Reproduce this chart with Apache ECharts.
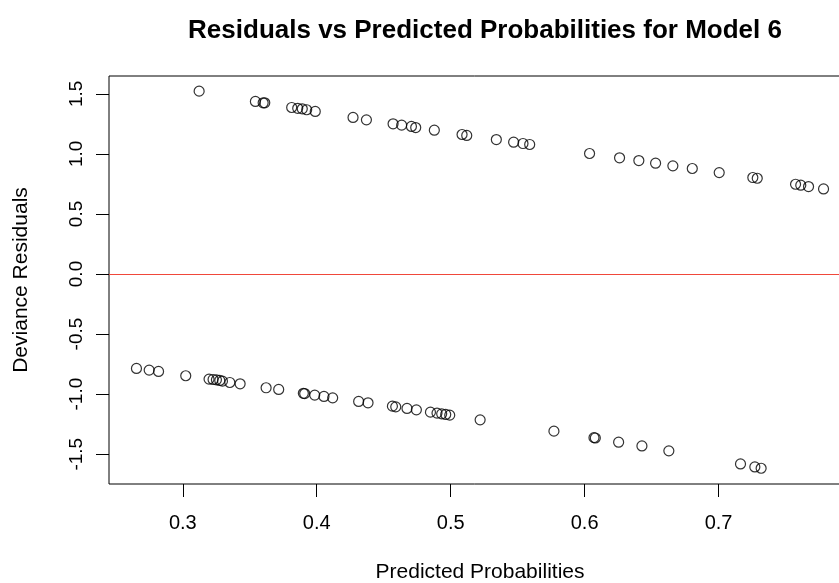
<!DOCTYPE html>
<html>
<head>
<meta charset="utf-8">
<script src="https://cdn.jsdelivr.net/npm/echarts@6/dist/echarts.min.js"></script>
<style>html,body{margin:0;padding:0;background:#fff}#c{width:839px;height:583px}</style>
</head>
<body>
<div id="c"></div>
<script>
// Observations with positive residuals (y = 1)
var upperProb = [0.3122,0.3542,0.3600,0.3612,0.3813,0.3858,0.3892,0.3925,0.3989,0.4271,0.4371,0.4570,0.4634,0.4707,0.4739,0.4878,0.5085,0.5120,0.5341,0.5470,0.5540,0.5590,0.6037,0.6261,0.6405,0.6530,0.6659,0.6804,0.7005,0.7256,0.7289,0.7575,0.7614,0.7672,0.7784];
var upperResid = [1.522,1.436,1.425,1.425,1.386,1.379,1.375,1.367,1.353,1.303,1.283,1.250,1.239,1.228,1.219,1.197,1.161,1.153,1.119,1.097,1.086,1.078,1.003,0.967,0.944,0.922,0.900,0.878,0.844,0.803,0.797,0.747,0.739,0.728,0.708];
// Observations with negative residuals (y = 0)
var lowerProb = [0.2654,0.2749,0.2819,0.3022,0.3196,0.3226,0.3251,0.3276,0.3296,0.3351,0.3428,0.3622,0.3716,0.3900,0.3910,0.3985,0.4054,0.4119,0.4313,0.4383,0.4565,0.4590,0.4674,0.4744,0.4849,0.4898,0.4933,0.4963,0.4993,0.5220,0.5771,0.6070,0.6080,0.6254,0.6428,0.6629,0.7164,0.7271,0.7318];
var lowerResid = [-0.786,-0.800,-0.811,-0.847,-0.875,-0.878,-0.881,-0.886,-0.892,-0.903,-0.914,-0.947,-0.961,-0.993,-0.995,-1.008,-1.019,-1.031,-1.061,-1.072,-1.100,-1.106,-1.119,-1.131,-1.150,-1.158,-1.164,-1.169,-1.175,-1.214,-1.308,-1.362,-1.365,-1.400,-1.431,-1.472,-1.581,-1.606,-1.617];
var xTicks = [0.3,0.4,0.5,0.6,0.7];
var yTicks = [-1.5,-1.0,-0.5,0.0,0.5,1.0,1.5];
var refLine = 0;

var pts = [];
for (var i = 0; i < upperProb.length; i++) pts.push([upperProb[i], upperResid[i]]);
for (var j = 0; j < lowerProb.length; j++) pts.push([lowerProb[j], lowerResid[j]]);

var FONT = "'Liberation Sans', Arial, Helvetica, sans-serif";
var chart = echarts.init(document.getElementById('c'), null, {renderer: 'canvas'});
chart.setOption({
  animation: false,
  backgroundColor: '#fff',
  title: {
    text: 'Residuals vs Predicted Probabilities for Model 6',
    left: 480, top: 13, textAlign: 'center',
    textStyle: {fontFamily: FONT, fontWeight: 'bold', fontSize: 26, color: '#000'}
  },
  grid: {
    left: 109, top: 76, width: 742, height: 408,
    show: true, borderColor: '#000', borderWidth: 1, backgroundColor: 'transparent',
    containLabel: false, outerBoundsMode: 'none'
  },
  xAxis: {
    type: 'value', min: 0.2449, max: 0.7989,
    name: 'Predicted Probabilities', nameLocation: 'middle', nameGap: 78,
    nameTextStyle: {fontFamily: FONT, fontSize: 21, color: '#000'},
    axisLine: {show: false, onZero: false},
    splitLine: {show: false},
    axisTick: {show: true, length: 13, lineStyle: {color: '#000', width: 1}, customValues: xTicks},
    axisLabel: {fontFamily: FONT, fontSize: 20, color: '#000', margin: 29, customValues: xTicks,
      formatter: function (v) { return v.toFixed(1); }}
  },
  yAxis: {
    type: 'value', min: -1.748, max: 1.648,
    name: 'Deviance Residuals', nameLocation: 'middle', nameGap: 77, nameRotate: 90,
    nameTextStyle: {fontFamily: FONT, fontSize: 21, color: '#000'},
    axisLine: {show: false, onZero: false},
    splitLine: {show: false},
    axisTick: {show: true, length: 13, lineStyle: {color: '#000', width: 1}, customValues: yTicks},
    axisLabel: {fontFamily: FONT, fontSize: 19, color: '#000', margin: 23, rotate: 90, customValues: yTicks,
      formatter: function (v) { return v.toFixed(1); }}
  },
  series: [{
    type: 'scatter',
    data: pts,
    symbol: 'circle', symbolSize: 10,
    itemStyle: {color: 'rgba(0,0,0,0)', borderColor: '#000', borderWidth: 1.2},
    silent: true,
    markLine: {
      silent: true, symbol: 'none', label: {show: false},
      lineStyle: {color: '#f0483a', width: 1.2, type: 'solid'},
      data: [{yAxis: refLine}]
    }
  }]
});
</script>
</body>
</html>
